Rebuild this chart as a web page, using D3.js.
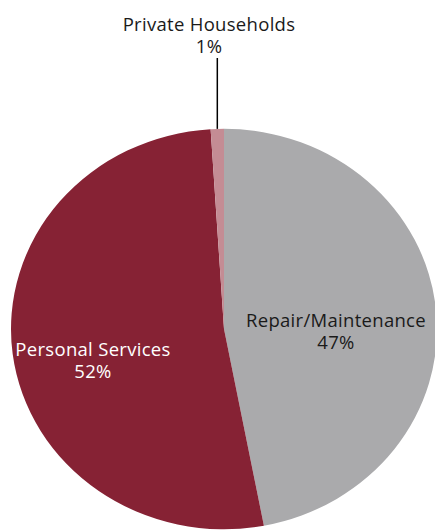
<!DOCTYPE html>
<html>
<head>
<meta charset="utf-8">
<script src="https://cdn.jsdelivr.net/npm/d3@7"></script>
<style>
  html, body { margin: 0; padding: 0; background: #fff; }
  svg { display: block; }
  text { font-family: "Open Sans", "Noto Sans", sans-serif; }
</style>
</head>
<body>
<svg id="chart" width="435" height="530"></svg>
<script>
// Share of employment by segment (percent)
const categories = ["Repair/Maintenance", "Personal Services", "Private Households"];
const shares = [47, 52, 1];
const colors = ["#aaaaac", "#862234", "#c48c94"];

const width = 435, height = 530;
const cx = 224, cy = 329;
const radius = 213;
const squash = 0.94; // pie is drawn slightly flattened vertically

const svg = d3.select("#chart");

const pie = d3.pie().sort(null).value(d => d.value);
const arc = d3.arc().innerRadius(0).outerRadius(radius);

const data = categories.map((c, i) => ({ name: c, value: shares[i], color: colors[i] }));
const arcs = pie(data);

const g = svg.append("g")
  .attr("transform", `translate(${cx},${cy}) scale(1,${squash})`);

g.selectAll("path")
  .data(arcs)
  .join("path")
  .attr("d", arc)
  .attr("fill", d => d.data.color);

// Labels
const labelG = svg.append("g").attr("transform", `translate(${cx},${cy})`);

function label(lines, x, y, fill) {
  const t = labelG.append("text")
    .attr("text-anchor", "middle")
    .attr("fill", fill)
    .attr("font-size", 18.5)
    .attr("letter-spacing", 0.3);
  lines.forEach((s, i) => {
    t.append("tspan").attr("x", x).attr("y", y + i * 21.5).text(s);
  });
}

const fmt = v => v + "%";

// Repair/Maintenance inside the grey slice
label([categories[0], fmt(shares[0])], 112, -2, "#1a1a1a");
// Personal Services inside the red slice
label([categories[1], fmt(shares[1])], -131, 27, "#ffffff");

// Private Households with a leader line above the pie
const tiny = arcs[2];
const midAngle = (tiny.startAngle + tiny.endAngle) / 2;
const edgeX = Math.sin(midAngle) * radius;
const edgeY = -Math.cos(midAngle) * radius * squash;
labelG.append("line")
  .attr("x1", edgeX).attr("y1", edgeY)
  .attr("x2", edgeX).attr("y2", -271)
  .attr("stroke", "#000")
  .attr("stroke-width", 1.5);
label([categories[2], fmt(shares[2])], -15, -298, "#1a1a1a");
</script>
</body>
</html>
